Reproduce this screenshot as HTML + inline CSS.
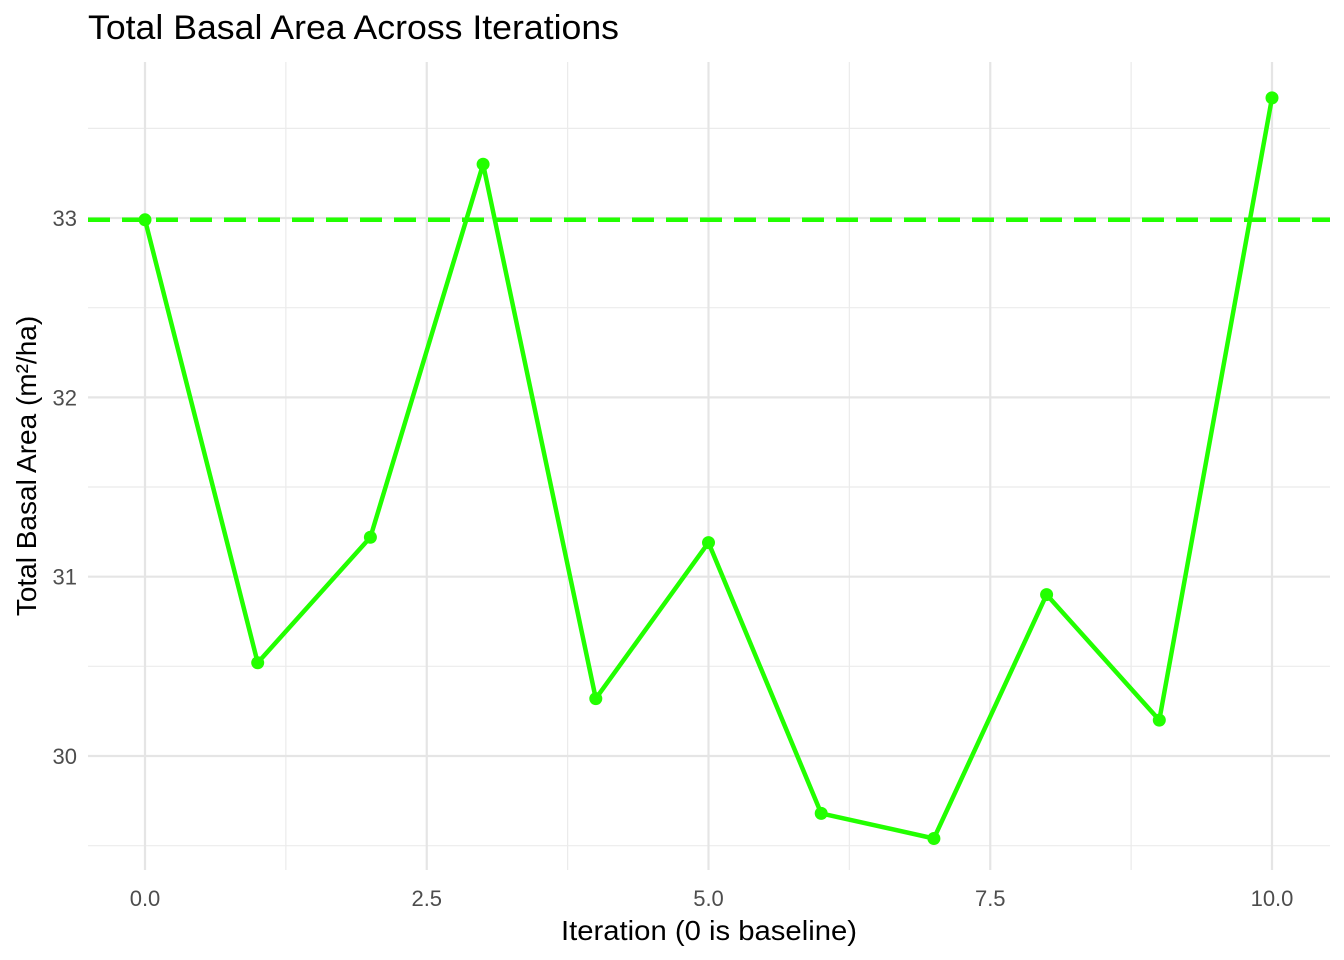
<!DOCTYPE html>
<html><head><meta charset="utf-8"><style>
html,body{margin:0;padding:0;background:#fff;}
svg{display:block;font-family:"Liberation Sans",Arial,sans-serif;}
</style></head><body>
<svg id="chart" width="1344" height="960" viewBox="0 0 1344 960">
<text x="88" y="39" font-size="34" fill="#000" textLength="531" lengthAdjust="spacingAndGlyphs">Total Basal Area Across Iterations</text>
<g id="grid"></g>
<g id="marks"></g>
<g id="axes"></g>
<text x="709" y="940" font-size="28" text-anchor="middle" fill="#000" textLength="296" lengthAdjust="spacingAndGlyphs">Iteration (0 is baseline)</text>
<text transform="translate(36,466) rotate(-90)" font-size="28" text-anchor="middle" fill="#000">Total Basal Area (m²/ha)</text>
</svg>
<script>
const iterations=[0,1,2,3,4,5,6,7,8,9,10];
const basalArea=[32.99,30.52,31.22,33.30,30.32,31.19,29.68,29.54,30.90,30.20,33.67];
const baselineValue=32.99;
const xTicks=[0,2.5,5,7.5,10];
const xTickLabels=["0.0","2.5","5.0","7.5","10.0"];
const yTicks=[30,31,32,33];
const yTickLabels=["30","31","32","33"];
const NS="http://www.w3.org/2000/svg";
const L=88,R=1330,T=62,B=870;
const xs=v=>145+v*112.7;
const ys=v=>756-(v-30)*179.33;
function mk(tag,attrs,parent){const e=document.createElementNS(NS,tag);for(const k in attrs)e.setAttribute(k,attrs[k]);parent.appendChild(e);return e;}
const grid=document.getElementById('grid'),marks=document.getElementById('marks'),axes=document.getElementById('axes');
for(let i=0;i<xTicks.length-1;i++){const v=(xTicks[i]+xTicks[i+1])/2;
const l=mk('line',{x1:xs(v),x2:xs(v),y1:T,y2:B,stroke:'#ebebeb','stroke-width':1.2},grid);
}
const yMinor=[29.5,30.5,31.5,32.5,33.5];
yMinor.forEach(v=>{const l=mk('line',{x1:L,x2:R,y1:ys(v),y2:ys(v),stroke:'#ebebeb','stroke-width':1.2},grid);
});
xTicks.forEach((v,i)=>{const l=mk('line',{x1:xs(v),x2:xs(v),y1:T,y2:B,stroke:'#e5e5e5','stroke-width':2.2},grid);

const t=mk('text',{x:xs(v),y:906,'font-size':22,'text-anchor':'middle',fill:'#4d4d4d'},axes);t.textContent=xTickLabels[i];
});
yTicks.forEach((v,i)=>{const l=mk('line',{x1:L,x2:R,y1:ys(v),y2:ys(v),stroke:'#e5e5e5','stroke-width':2.2},grid);

const t=mk('text',{x:77,y:ys(v)+8,'font-size':22,'text-anchor':'end',fill:'#4d4d4d'},axes);t.textContent=yTickLabels[i];
});
const bl=mk('line',{x1:L,x2:R,y1:ys(baselineValue),y2:ys(baselineValue),stroke:'#22ff00','stroke-width':4.5,'stroke-dasharray':'22,12'},marks);

const pts=iterations.map((x,i)=>xs(x)+','+ys(basalArea[i])).join(' ');
const pl=mk('polyline',{points:pts,fill:'none',stroke:'#22ff00','stroke-width':4.5,'stroke-linejoin':'round'},marks);

iterations.forEach((x,i)=>{const c=mk('circle',{cx:xs(x),cy:ys(basalArea[i]),r:6.5,fill:'#22ff00'},marks);
});
</script>
</body></html>
